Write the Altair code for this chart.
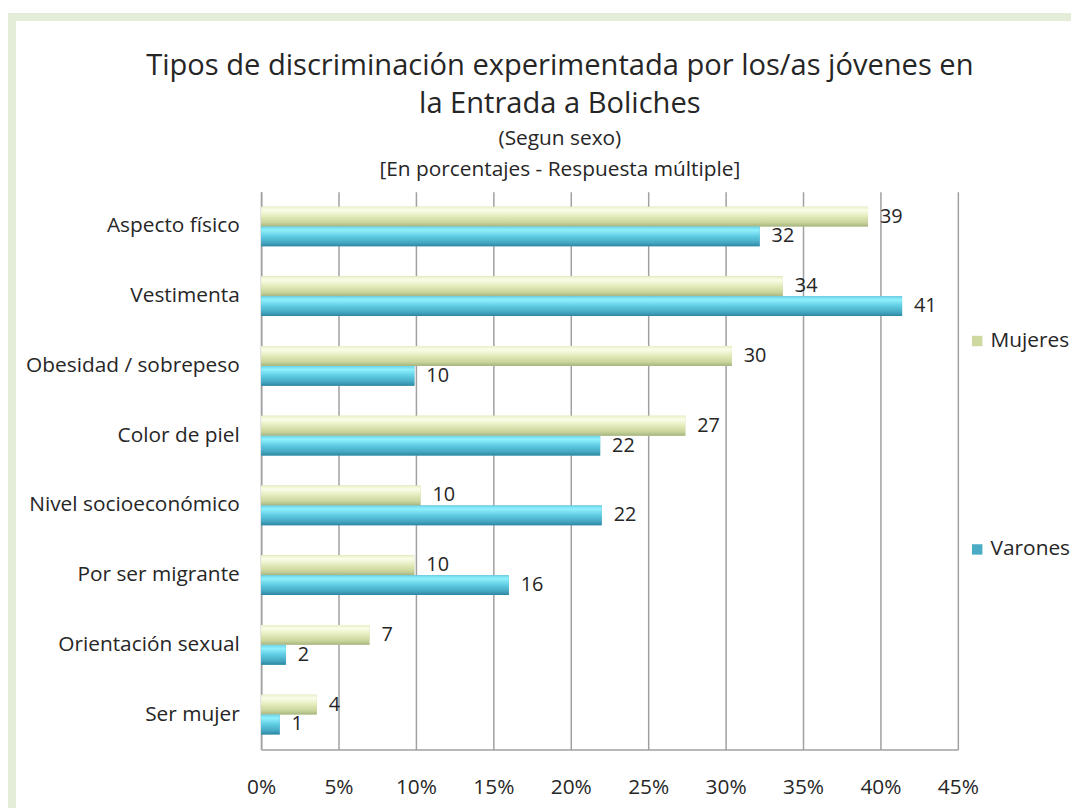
import altair as alt
import pandas as pd

categories = ["Aspecto físico", "Vestimenta", "Obesidad / sobrepeso", "Color de piel",
              "Nivel socioeconómico", "Por ser migrante", "Orientación sexual", "Ser mujer"]
series = ["Mujeres", "Varones"]
mujeres = [39.2, 33.7, 30.4, 27.4, 10.3, 9.9, 7.0, 3.6]
varones = [32.2, 41.4, 9.9, 21.9, 22.0, 16.0, 1.6, 1.2]
x_ticks = [0, 5, 10, 15, 20, 25, 30, 35, 40, 45]

FONT = "Open Sans"
TXT = "#262626"
GRID = "#a0a0a0"
BAND = "#e3edd8"
colors = ["#cdd99f", "#4bacc6"]

rows = []
for c, m, v in zip(categories, mujeres, varones):
    rows.append({"cat": c, "sexo": "Mujeres", "val": m})
    rows.append({"cat": c, "sexo": "Varones", "val": v})
df = pd.DataFrame(rows)

W, H = 702, 562
PL, PT = 255, 182
PR, PB = 1071 - PL - W, 803 - PT - H

y_enc = alt.Y("cat:N", sort=categories, title=None,
              scale=alt.Scale(paddingInner=0.43, paddingOuter=0.215))
yoff = alt.YOffset("sexo:N", sort=series)
x_enc = alt.X("val:Q", title=None,
              scale=alt.Scale(domain=[0, 45], nice=False),
              axis=alt.Axis(values=x_ticks, labelExpr="datum.value + '%'",
                            labelFlush=False))

base = alt.Chart(df)

bars = base.mark_bar().encode(
    x=x_enc, y=y_enc, yOffset=yoff,
    color=alt.Color("sexo:N", sort=series, title=None,
                    scale=alt.Scale(domain=series, range=colors),
                    legend=alt.Legend(orient="none", legendX=711, legendY=140,
                                      direction="vertical", rowPadding=188,
                                      symbolType="square", symbolSize=110,
                                      symbolStrokeWidth=0, labelOffset=3,
                                      labelFontSize=21, labelFont=FONT,
                                      labelColor=TXT, padding=0)),
)

grad_m = {"gradient": "linear", "x1": 0, "y1": 0, "x2": 0, "y2": 1,
          "stops": [{"offset": 0, "color": "#e9efc8"},
                    {"offset": 0.18, "color": "#fbfde9"},
                    {"offset": 0.5, "color": "#e2eab9"},
                    {"offset": 0.8, "color": "#c9d59c"},
                    {"offset": 1, "color": "#a6b480"}]}
grad_v = {"gradient": "linear", "x1": 0, "y1": 0, "x2": 0, "y2": 1,
          "stops": [{"offset": 0, "color": "#6cd3e8"},
                    {"offset": 0.18, "color": "#90f1fd"},
                    {"offset": 0.5, "color": "#5ecbe2"},
                    {"offset": 0.8, "color": "#47a9c4"},
                    {"offset": 1, "color": "#2e86a0"}]}

shade_m = base.transform_filter(alt.datum.sexo == "Mujeres").mark_bar(fill=grad_m).encode(
    x="val:Q", y=y_enc, yOffset=yoff)
shade_v = base.transform_filter(alt.datum.sexo == "Varones").mark_bar(fill=grad_v).encode(
    x="val:Q", y=y_enc, yOffset=yoff)

labels = base.mark_text(align="left", baseline="middle", dx=12, fontSize=20,
                        font=FONT, color=TXT).encode(
    x="val:Q", y=y_enc, yOffset=yoff, text=alt.Text("val:Q", format=".0f"))

frame_df = pd.DataFrame({"k": [1]})
left_band = alt.Chart(frame_df).mark_rect(color=BAND).encode(
    x=alt.value(-PL), x2=alt.value(-PL + 8), y=alt.value(-PT + 2), y2=alt.value(H + PB))
top_band = alt.Chart(frame_df).mark_rect(color=BAND).encode(
    x=alt.value(-PL), x2=alt.value(W + PR), y=alt.value(-PT + 2), y2=alt.value(-PT + 10))

chart = alt.layer(bars, shade_m, shade_v, labels, left_band, top_band).properties(
    width=W, height=H,
    autosize=alt.AutoSizeParams(type="none"),
    padding={"left": PL, "top": PT, "right": PR, "bottom": PB},
    background="white",
    title=alt.TitleParams(
        text=["Tipos de discriminación experimentada por los/as jóvenes en",
              "la Entrada a Boliches"],
        subtitle=["(Segun sexo)", "[En porcentajes - Respuesta múltiple]"],
        anchor="middle", frame="group", dx=-50, dy=180, offset=12,
        font=FONT, fontSize=29.3, fontWeight="normal", color=TXT, lineHeight=39,
        subtitleFont=FONT, subtitleFontSize=21, subtitleColor=TXT,
        subtitleLineHeight=31, subtitlePadding=8.5),
).configure_view(stroke=None).configure_axis(
    labelFont=FONT, labelFontSize=21, labelColor=TXT, labelLimit=400,
    domainColor=GRID, domainWidth=1.5, ticks=False,
).configure_axisX(
    grid=True, gridColor=GRID, gridWidth=1.5, labelPadding=27,
).configure_axisY(
    grid=False, labelPadding=22,
)

chart.save("out.html", embed_options={"renderer": "svg", "actions": False})
